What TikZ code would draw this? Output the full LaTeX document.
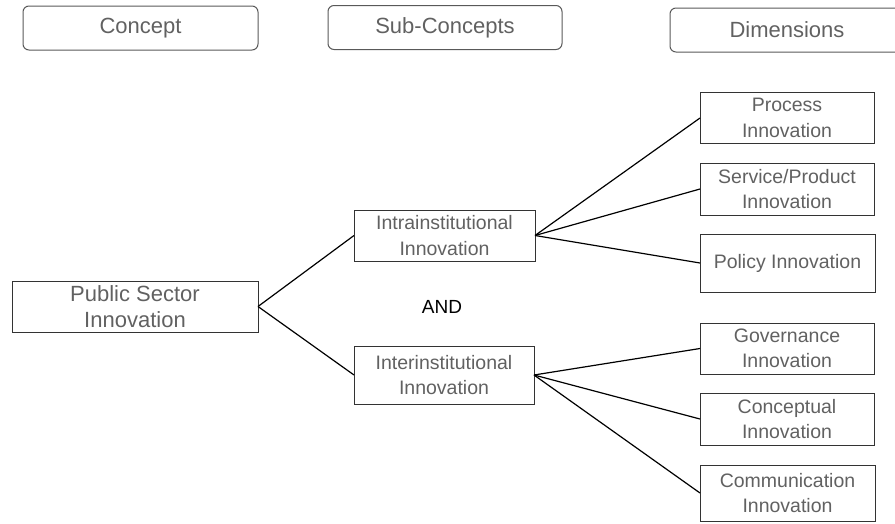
\documentclass[tikz,border=0pt]{standalone}
\usepackage{fontspec}
\setmainfont{Liberation Sans}
\begin{document}
\begin{tikzpicture}[x=1pt,y=-1pt,
  every node/.style={inner sep=0pt, outer sep=0pt},
  hdr/.style={draw=black!65, line width=1pt, rounded corners=6pt, text=black!62,
    font=\fontsize{22}{26}\selectfont, align=center, minimum width=234pt, minimum height=44pt},
  dbox/.style={draw=black!80, line width=1pt, text=black!62, align=center,
    font=\fontsize{19.5}{25.5}\selectfont},
  link/.style={draw=black, line width=1.2pt}]
\useasboundingbox (0,0) rectangle (895,523);
\clip (0,0) rectangle (895,523);
% headers
\node[hdr, minimum width=235pt] (hc) at (140.5,28) {Concept};
\node[hdr] (hs) at (445,27.5) {Sub-Concepts};
\node[hdr] (hd) at (787,30) {Dimensions};
% concept
\node[dbox, minimum width=246pt, minimum height=51pt, font=\fontsize{22}{26}\selectfont] (psi) at (135,306.5) {Public Sector\\Innovation};
% sub-concepts
\node[dbox, minimum width=181pt, minimum height=51pt] (intra) at (444.5,235.5) {Intrainstitutional\\Innovation};
\node[dbox, minimum width=180pt, minimum height=58pt] (inter) at (444,375) {Interinstitutional\\Innovation};
\node[text=black, font=\fontsize{19}{22}\selectfont] (and) at (442,307) {AND};
% dimensions
\node[dbox, minimum width=174pt, minimum height=51pt] (proc) at (787,118) {Process\\Innovation};
\node[dbox, minimum width=174pt, minimum height=52pt] (serv) at (787,189) {Service/Product\\Innovation};
\node[dbox, minimum width=175pt, minimum height=58pt] (pol) at (787.5,263) {Policy Innovation};
\node[dbox, minimum width=174pt, minimum height=51pt] (gov) at (787,348.5) {Governance\\Innovation};
\node[dbox, minimum width=174pt, minimum height=52pt] (conc) at (787,419) {Conceptual\\Innovation};
\node[dbox, minimum width=175pt, minimum height=56pt] (comm) at (787.5,493) {Communication\\Innovation};
% connectors
\draw[link] (psi.east) -- (intra.west);
\draw[link] (psi.east) -- (inter.west);
\draw[link] (intra.east) -- (proc.west);
\draw[link] (intra.east) -- (serv.west);
\draw[link] (intra.east) -- (pol.west);
\draw[link] (inter.east) -- (gov.west);
\draw[link] (inter.east) -- (conc.west);
\draw[link] (inter.east) -- (comm.west);
\end{tikzpicture}
\end{document}
